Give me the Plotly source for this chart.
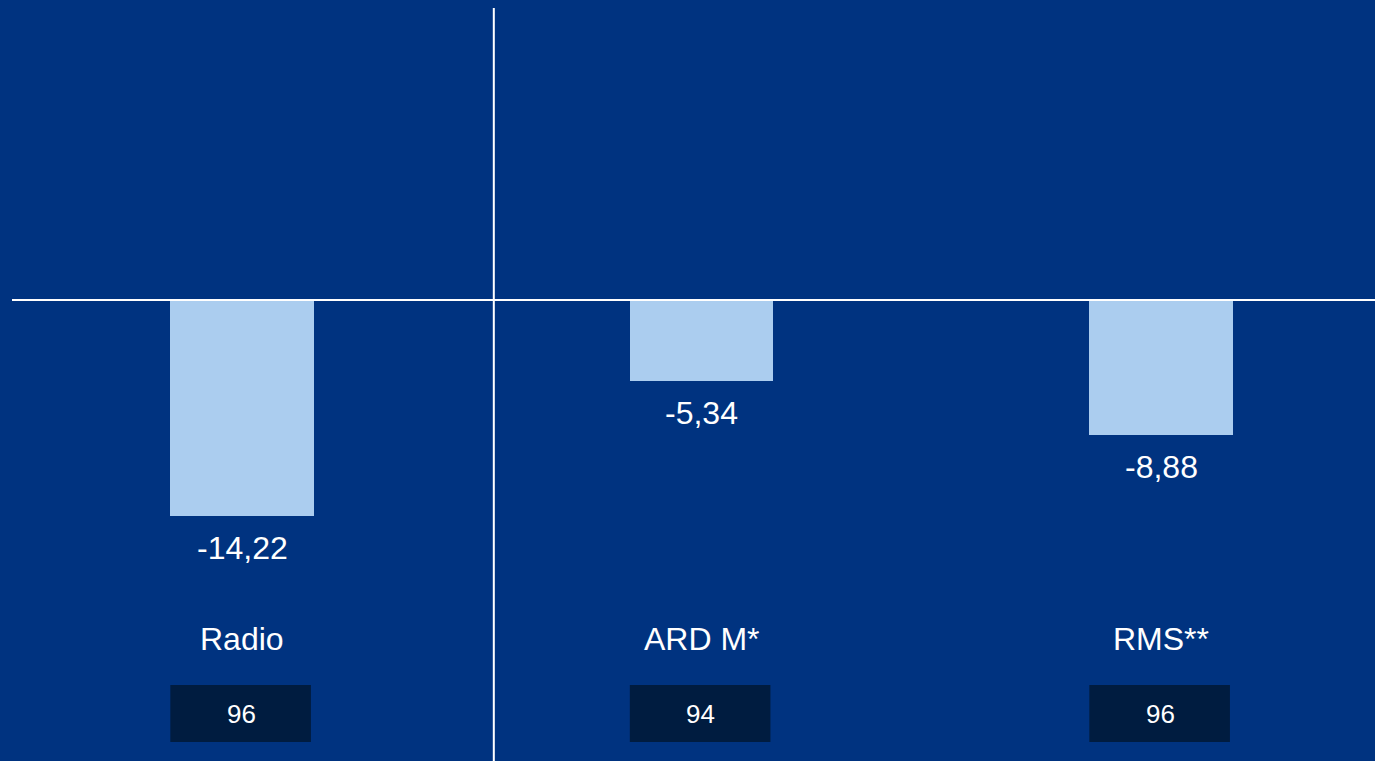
import plotly.graph_objects as go

categories = ["Radio", "ARD M*", "RMS**"]
values = [-14.22, -5.34, -8.88]
box_numbers = ["96", "94", "96"]

BG = "#003380"
BAR = "#abcdef"
BOX = "#001c40"
FONT = "Arial, Liberation Sans, sans-serif"

W, H = 1375, 761
xs = list(range(len(categories)))

fig = go.Figure()
fig.add_trace(go.Bar(
    x=xs, y=values, width=0.313,
    marker=dict(color=BAR, line=dict(width=0)),
    hoverinfo="skip",
))

annotations = []
shapes = []
for i, (c, v, b) in enumerate(zip(categories, values, box_numbers)):
    label = f"{v:.2f}".replace(".", ",")
    annotations.append(dict(x=i, y=v, xref="x", yref="y", text=label,
                            showarrow=False, yanchor="middle", yshift=-32,
                            font=dict(family=FONT, size=32, color="white")))
    annotations.append(dict(x=i, y=1 - 639 / H, xref="x", yref="paper", text=c,
                            showarrow=False, yanchor="middle",
                            font=dict(family=FONT, size=32, color="white")))
    annotations.append(dict(x=i, y=1 - 714 / H, xref="x", yref="paper", text=b,
                            showarrow=False, yanchor="middle", xshift=-1,
                            font=dict(family=FONT, size=26, color="white")))
    shapes.append(dict(type="rect", xref="x", yref="paper",
                       x0=i - 0.156, x1=i + 0.150,
                       y0=1 - 742 / H, y1=1 - 685 / H,
                       fillcolor=BOX, line=dict(width=0), layer="below"))

# zero line
shapes.append(dict(type="line", xref="paper", yref="y", x0=12 / W, x1=1, y0=0, y1=0,
                   line=dict(color="white", width=2)))
# vertical separator
shapes.append(dict(type="line", xref="x", yref="paper", x0=0.548, x1=0.548,
                   y0=0, y1=1 - 8 / H, line=dict(color="white", width=2)))

fig.update_layout(
    width=W, height=H,
    margin=dict(l=0, r=0, t=0, b=0),
    paper_bgcolor=BG, plot_bgcolor=BG,
    showlegend=False,
    xaxis=dict(range=[-242 / 459.5, (W - 242) / 459.5], visible=False, fixedrange=True),
    yaxis=dict(range=[-461 / 15.19, 300 / 15.19], visible=False, fixedrange=True),
    annotations=annotations,
    shapes=shapes,
    bargap=0,
)

fig.write_html(
    "out.html",
    config={"displayModeBar": False},
    post_script="document.body.style.margin='0';document.body.style.overflow='hidden';document.body.style.background='" + BG + "';",
)
